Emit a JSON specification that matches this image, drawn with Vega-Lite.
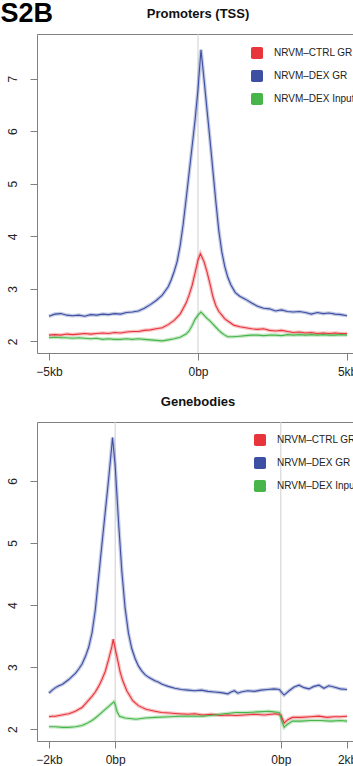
{
  "$schema": "https://vega.github.io/schema/vega-lite/v6.json",
  "padding": {"left": 0, "top": 0, "right": 0, "bottom": 0},
  "background": "white",
  "title": {"text": "S2B", "anchor": "start", "fontSize": 27, "fontWeight": "bold", "font": "Liberation Sans", "color": "#000000", "offset": -21, "dx": -5},
  "config": {
    "font": "Liberation Sans",
    "view": {"stroke": "#808080", "strokeWidth": 1},
    "axis": {"domain": false, "grid": false, "tickColor": "#808080", "tickSize": 7, "labelFontSize": 12, "labelColor": "#222222", "labelFont": "Liberation Sans", "title": null},
    "title": {"fontSize": 13, "fontWeight": "bold", "font": "Liberation Sans", "color": "#111111", "offset": 13, "anchor": "middle"}
  },
  "resolve": {"legend": {"color": "independent"}},
  "spacing": 17,
  "datasets": {
    "top": [
      {"x":-5000,"v":2.48,"s":"NRVM–DEX GR"},{"x":-4800,"v":2.52,"s":"NRVM–DEX GR"},{"x":-4600,"v":2.53,"s":"NRVM–DEX GR"},{"x":-4400,"v":2.50,"s":"NRVM–DEX GR"},{"x":-4200,"v":2.49,"s":"NRVM–DEX GR"},{"x":-4000,"v":2.50,"s":"NRVM–DEX GR"},{"x":-3800,"v":2.48,"s":"NRVM–DEX GR"},{"x":-3600,"v":2.51,"s":"NRVM–DEX GR"},{"x":-3400,"v":2.50,"s":"NRVM–DEX GR"},{"x":-3200,"v":2.52,"s":"NRVM–DEX GR"},{"x":-3000,"v":2.51,"s":"NRVM–DEX GR"},{"x":-2800,"v":2.53,"s":"NRVM–DEX GR"},{"x":-2600,"v":2.52,"s":"NRVM–DEX GR"},{"x":-2400,"v":2.55,"s":"NRVM–DEX GR"},{"x":-2200,"v":2.56,"s":"NRVM–DEX GR"},{"x":-2000,"v":2.58,"s":"NRVM–DEX GR"},{"x":-1800,"v":2.63,"s":"NRVM–DEX GR"},{"x":-1600,"v":2.70,"s":"NRVM–DEX GR"},{"x":-1400,"v":2.78,"s":"NRVM–DEX GR"},{"x":-1200,"v":2.88,"s":"NRVM–DEX GR"},{"x":-1000,"v":3.04,"s":"NRVM–DEX GR"},{"x":-900,"v":3.17,"s":"NRVM–DEX GR"},{"x":-800,"v":3.33,"s":"NRVM–DEX GR"},{"x":-700,"v":3.52,"s":"NRVM–DEX GR"},{"x":-600,"v":3.82,"s":"NRVM–DEX GR"},{"x":-500,"v":4.22,"s":"NRVM–DEX GR"},{"x":-400,"v":4.70,"s":"NRVM–DEX GR"},{"x":-300,"v":5.20,"s":"NRVM–DEX GR"},{"x":-200,"v":5.70,"s":"NRVM–DEX GR"},{"x":-100,"v":6.20,"s":"NRVM–DEX GR"},{"x":0,"v":6.80,"s":"NRVM–DEX GR"},{"x":100,"v":7.55,"s":"NRVM–DEX GR"},{"x":200,"v":7.00,"s":"NRVM–DEX GR"},{"x":300,"v":6.42,"s":"NRVM–DEX GR"},{"x":400,"v":5.85,"s":"NRVM–DEX GR"},{"x":500,"v":5.25,"s":"NRVM–DEX GR"},{"x":600,"v":4.65,"s":"NRVM–DEX GR"},{"x":700,"v":4.10,"s":"NRVM–DEX GR"},{"x":800,"v":3.70,"s":"NRVM–DEX GR"},{"x":900,"v":3.42,"s":"NRVM–DEX GR"},{"x":1000,"v":3.22,"s":"NRVM–DEX GR"},{"x":1100,"v":3.08,"s":"NRVM–DEX GR"},{"x":1250,"v":2.93,"s":"NRVM–DEX GR"},{"x":1400,"v":2.86,"s":"NRVM–DEX GR"},{"x":1600,"v":2.80,"s":"NRVM–DEX GR"},{"x":1800,"v":2.73,"s":"NRVM–DEX GR"},{"x":2000,"v":2.67,"s":"NRVM–DEX GR"},{"x":2200,"v":2.63,"s":"NRVM–DEX GR"},{"x":2400,"v":2.62,"s":"NRVM–DEX GR"},{"x":2600,"v":2.58,"s":"NRVM–DEX GR"},{"x":2800,"v":2.60,"s":"NRVM–DEX GR"},{"x":3000,"v":2.57,"s":"NRVM–DEX GR"},{"x":3200,"v":2.56,"s":"NRVM–DEX GR"},{"x":3400,"v":2.57,"s":"NRVM–DEX GR"},{"x":3600,"v":2.55,"s":"NRVM–DEX GR"},{"x":3800,"v":2.52,"s":"NRVM–DEX GR"},{"x":4000,"v":2.55,"s":"NRVM–DEX GR"},{"x":4200,"v":2.53,"s":"NRVM–DEX GR"},{"x":4400,"v":2.54,"s":"NRVM–DEX GR"},{"x":4600,"v":2.52,"s":"NRVM–DEX GR"},{"x":4800,"v":2.51,"s":"NRVM–DEX GR"},{"x":5000,"v":2.49,"s":"NRVM–DEX GR"},
      {"x":-5000,"v":2.12,"s":"NRVM–CTRL GR"},{"x":-4800,"v":2.13,"s":"NRVM–CTRL GR"},{"x":-4600,"v":2.12,"s":"NRVM–CTRL GR"},{"x":-4400,"v":2.14,"s":"NRVM–CTRL GR"},{"x":-4200,"v":2.13,"s":"NRVM–CTRL GR"},{"x":-4000,"v":2.14,"s":"NRVM–CTRL GR"},{"x":-3800,"v":2.15,"s":"NRVM–CTRL GR"},{"x":-3600,"v":2.14,"s":"NRVM–CTRL GR"},{"x":-3400,"v":2.15,"s":"NRVM–CTRL GR"},{"x":-3200,"v":2.16,"s":"NRVM–CTRL GR"},{"x":-3000,"v":2.15,"s":"NRVM–CTRL GR"},{"x":-2800,"v":2.17,"s":"NRVM–CTRL GR"},{"x":-2600,"v":2.16,"s":"NRVM–CTRL GR"},{"x":-2400,"v":2.18,"s":"NRVM–CTRL GR"},{"x":-2200,"v":2.19,"s":"NRVM–CTRL GR"},{"x":-2000,"v":2.19,"s":"NRVM–CTRL GR"},{"x":-1800,"v":2.21,"s":"NRVM–CTRL GR"},{"x":-1600,"v":2.22,"s":"NRVM–CTRL GR"},{"x":-1400,"v":2.24,"s":"NRVM–CTRL GR"},{"x":-1200,"v":2.26,"s":"NRVM–CTRL GR"},{"x":-1000,"v":2.32,"s":"NRVM–CTRL GR"},{"x":-800,"v":2.40,"s":"NRVM–CTRL GR"},{"x":-600,"v":2.52,"s":"NRVM–CTRL GR"},{"x":-400,"v":2.73,"s":"NRVM–CTRL GR"},{"x":-300,"v":2.88,"s":"NRVM–CTRL GR"},{"x":-200,"v":3.06,"s":"NRVM–CTRL GR"},{"x":-100,"v":3.30,"s":"NRVM–CTRL GR"},{"x":0,"v":3.55,"s":"NRVM–CTRL GR"},{"x":80,"v":3.67,"s":"NRVM–CTRL GR"},{"x":200,"v":3.52,"s":"NRVM–CTRL GR"},{"x":300,"v":3.33,"s":"NRVM–CTRL GR"},{"x":400,"v":3.10,"s":"NRVM–CTRL GR"},{"x":500,"v":2.85,"s":"NRVM–CTRL GR"},{"x":600,"v":2.68,"s":"NRVM–CTRL GR"},{"x":700,"v":2.57,"s":"NRVM–CTRL GR"},{"x":800,"v":2.50,"s":"NRVM–CTRL GR"},{"x":900,"v":2.43,"s":"NRVM–CTRL GR"},{"x":1000,"v":2.39,"s":"NRVM–CTRL GR"},{"x":1200,"v":2.31,"s":"NRVM–CTRL GR"},{"x":1400,"v":2.28,"s":"NRVM–CTRL GR"},{"x":1600,"v":2.26,"s":"NRVM–CTRL GR"},{"x":1800,"v":2.24,"s":"NRVM–CTRL GR"},{"x":2000,"v":2.23,"s":"NRVM–CTRL GR"},{"x":2200,"v":2.24,"s":"NRVM–CTRL GR"},{"x":2400,"v":2.21,"s":"NRVM–CTRL GR"},{"x":2600,"v":2.20,"s":"NRVM–CTRL GR"},{"x":2800,"v":2.21,"s":"NRVM–CTRL GR"},{"x":3000,"v":2.19,"s":"NRVM–CTRL GR"},{"x":3200,"v":2.17,"s":"NRVM–CTRL GR"},{"x":3400,"v":2.18,"s":"NRVM–CTRL GR"},{"x":3600,"v":2.16,"s":"NRVM–CTRL GR"},{"x":3800,"v":2.17,"s":"NRVM–CTRL GR"},{"x":4000,"v":2.15,"s":"NRVM–CTRL GR"},{"x":4200,"v":2.16,"s":"NRVM–CTRL GR"},{"x":4400,"v":2.15,"s":"NRVM–CTRL GR"},{"x":4600,"v":2.16,"s":"NRVM–CTRL GR"},{"x":4800,"v":2.15,"s":"NRVM–CTRL GR"},{"x":5000,"v":2.15,"s":"NRVM–CTRL GR"},
      {"x":-5000,"v":2.07,"s":"NRVM–DEX Input"},{"x":-4800,"v":2.08,"s":"NRVM–DEX Input"},{"x":-4600,"v":2.07,"s":"NRVM–DEX Input"},{"x":-4400,"v":2.07,"s":"NRVM–DEX Input"},{"x":-4200,"v":2.06,"s":"NRVM–DEX Input"},{"x":-4000,"v":2.07,"s":"NRVM–DEX Input"},{"x":-3800,"v":2.06,"s":"NRVM–DEX Input"},{"x":-3600,"v":2.05,"s":"NRVM–DEX Input"},{"x":-3400,"v":2.06,"s":"NRVM–DEX Input"},{"x":-3200,"v":2.04,"s":"NRVM–DEX Input"},{"x":-3000,"v":2.05,"s":"NRVM–DEX Input"},{"x":-2800,"v":2.04,"s":"NRVM–DEX Input"},{"x":-2600,"v":2.04,"s":"NRVM–DEX Input"},{"x":-2400,"v":2.05,"s":"NRVM–DEX Input"},{"x":-2200,"v":2.04,"s":"NRVM–DEX Input"},{"x":-2000,"v":2.05,"s":"NRVM–DEX Input"},{"x":-1800,"v":2.04,"s":"NRVM–DEX Input"},{"x":-1600,"v":2.03,"s":"NRVM–DEX Input"},{"x":-1400,"v":2.02,"s":"NRVM–DEX Input"},{"x":-1200,"v":2.01,"s":"NRVM–DEX Input"},{"x":-1000,"v":2.03,"s":"NRVM–DEX Input"},{"x":-800,"v":2.05,"s":"NRVM–DEX Input"},{"x":-600,"v":2.08,"s":"NRVM–DEX Input"},{"x":-400,"v":2.14,"s":"NRVM–DEX Input"},{"x":-300,"v":2.20,"s":"NRVM–DEX Input"},{"x":-200,"v":2.30,"s":"NRVM–DEX Input"},{"x":-100,"v":2.42,"s":"NRVM–DEX Input"},{"x":0,"v":2.50,"s":"NRVM–DEX Input"},{"x":100,"v":2.56,"s":"NRVM–DEX Input"},{"x":200,"v":2.50,"s":"NRVM–DEX Input"},{"x":300,"v":2.44,"s":"NRVM–DEX Input"},{"x":400,"v":2.39,"s":"NRVM–DEX Input"},{"x":500,"v":2.33,"s":"NRVM–DEX Input"},{"x":600,"v":2.27,"s":"NRVM–DEX Input"},{"x":700,"v":2.21,"s":"NRVM–DEX Input"},{"x":800,"v":2.16,"s":"NRVM–DEX Input"},{"x":900,"v":2.12,"s":"NRVM–DEX Input"},{"x":1000,"v":2.09,"s":"NRVM–DEX Input"},{"x":1200,"v":2.09,"s":"NRVM–DEX Input"},{"x":1400,"v":2.10,"s":"NRVM–DEX Input"},{"x":1600,"v":2.11,"s":"NRVM–DEX Input"},{"x":1800,"v":2.12,"s":"NRVM–DEX Input"},{"x":2000,"v":2.12,"s":"NRVM–DEX Input"},{"x":2200,"v":2.11,"s":"NRVM–DEX Input"},{"x":2400,"v":2.12,"s":"NRVM–DEX Input"},{"x":2600,"v":2.12,"s":"NRVM–DEX Input"},{"x":2800,"v":2.11,"s":"NRVM–DEX Input"},{"x":3000,"v":2.13,"s":"NRVM–DEX Input"},{"x":3200,"v":2.12,"s":"NRVM–DEX Input"},{"x":3400,"v":2.13,"s":"NRVM–DEX Input"},{"x":3600,"v":2.12,"s":"NRVM–DEX Input"},{"x":3800,"v":2.13,"s":"NRVM–DEX Input"},{"x":4000,"v":2.12,"s":"NRVM–DEX Input"},{"x":4200,"v":2.13,"s":"NRVM–DEX Input"},{"x":4400,"v":2.12,"s":"NRVM–DEX Input"},{"x":4600,"v":2.12,"s":"NRVM–DEX Input"},{"x":4800,"v":2.13,"s":"NRVM–DEX Input"},{"x":5000,"v":2.12,"s":"NRVM–DEX Input"}
    ],
    "bottom": [
      {"x":-2000,"v":2.58,"s":"NRVM–DEX GR"},{"x":-1900,"v":2.63,"s":"NRVM–DEX GR"},{"x":-1800,"v":2.67,"s":"NRVM–DEX GR"},{"x":-1700,"v":2.70,"s":"NRVM–DEX GR"},{"x":-1600,"v":2.72,"s":"NRVM–DEX GR"},{"x":-1500,"v":2.76,"s":"NRVM–DEX GR"},{"x":-1400,"v":2.80,"s":"NRVM–DEX GR"},{"x":-1300,"v":2.85,"s":"NRVM–DEX GR"},{"x":-1200,"v":2.90,"s":"NRVM–DEX GR"},{"x":-1100,"v":2.97,"s":"NRVM–DEX GR"},{"x":-1000,"v":3.05,"s":"NRVM–DEX GR"},{"x":-900,"v":3.17,"s":"NRVM–DEX GR"},{"x":-800,"v":3.32,"s":"NRVM–DEX GR"},{"x":-700,"v":3.55,"s":"NRVM–DEX GR"},{"x":-600,"v":3.92,"s":"NRVM–DEX GR"},{"x":-500,"v":4.45,"s":"NRVM–DEX GR"},{"x":-400,"v":4.98,"s":"NRVM–DEX GR"},{"x":-300,"v":5.50,"s":"NRVM–DEX GR"},{"x":-200,"v":6.02,"s":"NRVM–DEX GR"},{"x":-100,"v":6.58,"s":"NRVM–DEX GR"},{"x":-80,"v":6.70,"s":"NRVM–DEX GR"},{"x":0,"v":6.25,"s":"NRVM–DEX GR"},{"x":100,"v":5.35,"s":"NRVM–DEX GR"},{"x":200,"v":4.55,"s":"NRVM–DEX GR"},{"x":300,"v":3.95,"s":"NRVM–DEX GR"},{"x":400,"v":3.55,"s":"NRVM–DEX GR"},{"x":500,"v":3.30,"s":"NRVM–DEX GR"},{"x":600,"v":3.14,"s":"NRVM–DEX GR"},{"x":700,"v":3.02,"s":"NRVM–DEX GR"},{"x":800,"v":2.94,"s":"NRVM–DEX GR"},{"x":900,"v":2.88,"s":"NRVM–DEX GR"},{"x":1000,"v":2.84,"s":"NRVM–DEX GR"},{"x":1100,"v":2.81,"s":"NRVM–DEX GR"},{"x":1200,"v":2.78,"s":"NRVM–DEX GR"},{"x":1300,"v":2.76,"s":"NRVM–DEX GR"},{"x":1400,"v":2.73,"s":"NRVM–DEX GR"},{"x":1500,"v":2.71,"s":"NRVM–DEX GR"},{"x":1600,"v":2.69,"s":"NRVM–DEX GR"},{"x":1800,"v":2.66,"s":"NRVM–DEX GR"},{"x":2000,"v":2.64,"s":"NRVM–DEX GR"},{"x":2200,"v":2.63,"s":"NRVM–DEX GR"},{"x":2400,"v":2.62,"s":"NRVM–DEX GR"},{"x":2600,"v":2.63,"s":"NRVM–DEX GR"},{"x":2800,"v":2.61,"s":"NRVM–DEX GR"},{"x":3000,"v":2.60,"s":"NRVM–DEX GR"},{"x":3200,"v":2.59,"s":"NRVM–DEX GR"},{"x":3400,"v":2.57,"s":"NRVM–DEX GR"},{"x":3500,"v":2.60,"s":"NRVM–DEX GR"},{"x":3600,"v":2.62,"s":"NRVM–DEX GR"},{"x":3700,"v":2.58,"s":"NRVM–DEX GR"},{"x":3800,"v":2.60,"s":"NRVM–DEX GR"},{"x":4000,"v":2.62,"s":"NRVM–DEX GR"},{"x":4200,"v":2.61,"s":"NRVM–DEX GR"},{"x":4400,"v":2.63,"s":"NRVM–DEX GR"},{"x":4600,"v":2.64,"s":"NRVM–DEX GR"},{"x":4800,"v":2.65,"s":"NRVM–DEX GR"},{"x":4950,"v":2.64,"s":"NRVM–DEX GR"},{"x":5100,"v":2.55,"s":"NRVM–DEX GR"},{"x":5250,"v":2.62,"s":"NRVM–DEX GR"},{"x":5400,"v":2.68,"s":"NRVM–DEX GR"},{"x":5550,"v":2.71,"s":"NRVM–DEX GR"},{"x":5700,"v":2.67,"s":"NRVM–DEX GR"},{"x":5850,"v":2.65,"s":"NRVM–DEX GR"},{"x":6000,"v":2.69,"s":"NRVM–DEX GR"},{"x":6150,"v":2.71,"s":"NRVM–DEX GR"},{"x":6300,"v":2.66,"s":"NRVM–DEX GR"},{"x":6450,"v":2.70,"s":"NRVM–DEX GR"},{"x":6600,"v":2.68,"s":"NRVM–DEX GR"},{"x":6800,"v":2.65,"s":"NRVM–DEX GR"},{"x":7000,"v":2.64,"s":"NRVM–DEX GR"},
      {"x":-2000,"v":2.20,"s":"NRVM–CTRL GR"},{"x":-1900,"v":2.21,"s":"NRVM–CTRL GR"},{"x":-1800,"v":2.21,"s":"NRVM–CTRL GR"},{"x":-1700,"v":2.22,"s":"NRVM–CTRL GR"},{"x":-1600,"v":2.23,"s":"NRVM–CTRL GR"},{"x":-1500,"v":2.24,"s":"NRVM–CTRL GR"},{"x":-1400,"v":2.25,"s":"NRVM–CTRL GR"},{"x":-1300,"v":2.27,"s":"NRVM–CTRL GR"},{"x":-1200,"v":2.29,"s":"NRVM–CTRL GR"},{"x":-1100,"v":2.32,"s":"NRVM–CTRL GR"},{"x":-1000,"v":2.35,"s":"NRVM–CTRL GR"},{"x":-900,"v":2.41,"s":"NRVM–CTRL GR"},{"x":-800,"v":2.47,"s":"NRVM–CTRL GR"},{"x":-700,"v":2.53,"s":"NRVM–CTRL GR"},{"x":-600,"v":2.60,"s":"NRVM–CTRL GR"},{"x":-500,"v":2.69,"s":"NRVM–CTRL GR"},{"x":-400,"v":2.80,"s":"NRVM–CTRL GR"},{"x":-300,"v":2.93,"s":"NRVM–CTRL GR"},{"x":-200,"v":3.12,"s":"NRVM–CTRL GR"},{"x":-100,"v":3.33,"s":"NRVM–CTRL GR"},{"x":-60,"v":3.45,"s":"NRVM–CTRL GR"},{"x":0,"v":3.30,"s":"NRVM–CTRL GR"},{"x":80,"v":3.10,"s":"NRVM–CTRL GR"},{"x":150,"v":2.92,"s":"NRVM–CTRL GR"},{"x":230,"v":2.78,"s":"NRVM–CTRL GR"},{"x":350,"v":2.62,"s":"NRVM–CTRL GR"},{"x":530,"v":2.46,"s":"NRVM–CTRL GR"},{"x":700,"v":2.38,"s":"NRVM–CTRL GR"},{"x":930,"v":2.32,"s":"NRVM–CTRL GR"},{"x":1200,"v":2.29,"s":"NRVM–CTRL GR"},{"x":1400,"v":2.27,"s":"NRVM–CTRL GR"},{"x":1640,"v":2.26,"s":"NRVM–CTRL GR"},{"x":1900,"v":2.25,"s":"NRVM–CTRL GR"},{"x":2200,"v":2.24,"s":"NRVM–CTRL GR"},{"x":2400,"v":2.25,"s":"NRVM–CTRL GR"},{"x":2640,"v":2.23,"s":"NRVM–CTRL GR"},{"x":2900,"v":2.24,"s":"NRVM–CTRL GR"},{"x":3200,"v":2.22,"s":"NRVM–CTRL GR"},{"x":3400,"v":2.23,"s":"NRVM–CTRL GR"},{"x":3640,"v":2.22,"s":"NRVM–CTRL GR"},{"x":3900,"v":2.23,"s":"NRVM–CTRL GR"},{"x":4200,"v":2.24,"s":"NRVM–CTRL GR"},{"x":4500,"v":2.23,"s":"NRVM–CTRL GR"},{"x":4850,"v":2.25,"s":"NRVM–CTRL GR"},{"x":5000,"v":2.23,"s":"NRVM–CTRL GR"},{"x":5100,"v":2.10,"s":"NRVM–CTRL GR"},{"x":5200,"v":2.15,"s":"NRVM–CTRL GR"},{"x":5350,"v":2.19,"s":"NRVM–CTRL GR"},{"x":5600,"v":2.19,"s":"NRVM–CTRL GR"},{"x":5900,"v":2.20,"s":"NRVM–CTRL GR"},{"x":6150,"v":2.21,"s":"NRVM–CTRL GR"},{"x":6400,"v":2.19,"s":"NRVM–CTRL GR"},{"x":6600,"v":2.20,"s":"NRVM–CTRL GR"},{"x":6800,"v":2.20,"s":"NRVM–CTRL GR"},{"x":7000,"v":2.21,"s":"NRVM–CTRL GR"},
      {"x":-2000,"v":2.04,"s":"NRVM–DEX Input"},{"x":-1800,"v":2.04,"s":"NRVM–DEX Input"},{"x":-1600,"v":2.03,"s":"NRVM–DEX Input"},{"x":-1400,"v":2.03,"s":"NRVM–DEX Input"},{"x":-1200,"v":2.04,"s":"NRVM–DEX Input"},{"x":-1000,"v":2.06,"s":"NRVM–DEX Input"},{"x":-870,"v":2.09,"s":"NRVM–DEX Input"},{"x":-700,"v":2.14,"s":"NRVM–DEX Input"},{"x":-600,"v":2.18,"s":"NRVM–DEX Input"},{"x":-470,"v":2.24,"s":"NRVM–DEX Input"},{"x":-300,"v":2.32,"s":"NRVM–DEX Input"},{"x":-170,"v":2.38,"s":"NRVM–DEX Input"},{"x":-40,"v":2.44,"s":"NRVM–DEX Input"},{"x":0,"v":2.40,"s":"NRVM–DEX Input"},{"x":60,"v":2.28,"s":"NRVM–DEX Input"},{"x":130,"v":2.21,"s":"NRVM–DEX Input"},{"x":300,"v":2.18,"s":"NRVM–DEX Input"},{"x":630,"v":2.16,"s":"NRVM–DEX Input"},{"x":900,"v":2.18,"s":"NRVM–DEX Input"},{"x":1200,"v":2.19,"s":"NRVM–DEX Input"},{"x":1640,"v":2.20,"s":"NRVM–DEX Input"},{"x":2000,"v":2.21,"s":"NRVM–DEX Input"},{"x":2300,"v":2.21,"s":"NRVM–DEX Input"},{"x":2640,"v":2.21,"s":"NRVM–DEX Input"},{"x":3000,"v":2.23,"s":"NRVM–DEX Input"},{"x":3300,"v":2.25,"s":"NRVM–DEX Input"},{"x":3640,"v":2.27,"s":"NRVM–DEX Input"},{"x":4000,"v":2.27,"s":"NRVM–DEX Input"},{"x":4300,"v":2.28,"s":"NRVM–DEX Input"},{"x":4650,"v":2.29,"s":"NRVM–DEX Input"},{"x":4950,"v":2.27,"s":"NRVM–DEX Input"},{"x":5050,"v":2.10,"s":"NRVM–DEX Input"},{"x":5100,"v":2.03,"s":"NRVM–DEX Input"},{"x":5200,"v":2.08,"s":"NRVM–DEX Input"},{"x":5350,"v":2.13,"s":"NRVM–DEX Input"},{"x":5600,"v":2.13,"s":"NRVM–DEX Input"},{"x":5900,"v":2.14,"s":"NRVM–DEX Input"},{"x":6200,"v":2.14,"s":"NRVM–DEX Input"},{"x":6500,"v":2.13,"s":"NRVM–DEX Input"},{"x":6800,"v":2.14,"s":"NRVM–DEX Input"},{"x":7000,"v":2.13,"s":"NRVM–DEX Input"}
    ]
  },
  "vconcat": [
    {
      "width": 322, "height": 319,
      "title": {"text": "Promoters (TSS)"},
      "encoding": {
        "x": {"field": "x", "type": "quantitative", "scale": {"domain": [-5400, 5400], "nice": false, "zero": false},
              "axis": {"values": [-5000, 0, 5000], "labelExpr": "datum.value == 0 ? '0bp' : (datum.value < 0 ? '−5kb' : '5kb')", "labelPadding": 6, "title": null}}
      },
      "layer": [
        {"data": {"values": [{"x": 0}]}, "mark": {"type": "rule", "color": "#cfcfcf", "strokeWidth": 1}},
        {
          "data": {"name": "top"},
          "encoding": {
            "y": {"field": "v", "type": "quantitative", "scale": {"domain": [1.78, 7.85], "nice": false, "zero": false},
                  "axis": {"values": [2, 3, 4, 5, 6, 7], "labelAngle": 270, "labelPadding": 11, "title": null}},
            "color": {"field": "s", "type": "nominal",
                      "scale": {"domain": ["NRVM–CTRL GR", "NRVM–DEX GR", "NRVM–DEX Input"], "range": ["#E8343B", "#3C4FA2", "#47B54A"]},
                      "legend": {"orient": "none", "legendX": 214, "legendY": 13, "title": null,
                                 "symbolType": "M-0.7,-1H0.7Q1,-1 1,-0.7V0.7Q1,1 0.7,1H-0.7Q-1,1 -1,0.7V-0.7Q-1,-1 -0.7,-1Z",
                                 "symbolSize": 144, "labelFontSize": 10, "labelOffset": 11, "rowPadding": 11, "labelColor": "#222222",
                                 "encode": {"symbols": {"update": {"fill": {"scale": "color", "field": "value"}, "opacity": {"value": 1}, "strokeWidth": {"value": 0}}}}}}
          },
          "layer": [
            {"mark": {"type": "line", "strokeWidth": 3.6, "opacity": 0.3}},
            {"mark": {"type": "line", "strokeWidth": 1.1}}
          ]
        }
      ]
    },
    {
      "width": 322, "height": 319,
      "title": {"text": "Genebodies"},
      "encoding": {
        "x": {"field": "x", "type": "quantitative", "scale": {"domain": [-2360, 7360], "nice": false, "zero": false},
              "axis": {"values": [-2000, 0, 5000, 7000], "labelExpr": "datum.value == -2000 ? '−2kb' : (datum.value == 7000 ? '2kb' : '0bp')", "labelPadding": 6, "title": null}}
      },
      "layer": [
        {"data": {"values": [{"x": 0}, {"x": 5000}]}, "mark": {"type": "rule", "color": "#cfcfcf", "strokeWidth": 1}},
        {
          "data": {"name": "bottom"},
          "encoding": {
            "y": {"field": "v", "type": "quantitative", "scale": {"domain": [1.81, 6.95], "nice": false, "zero": false},
                  "axis": {"values": [2, 3, 4, 5, 6], "labelAngle": 270, "labelPadding": 11, "title": null}},
            "color": {"field": "s", "type": "nominal",
                      "scale": {"domain": ["NRVM–CTRL GR", "NRVM–DEX GR", "NRVM–DEX Input"], "range": ["#E8343B", "#3C4FA2", "#47B54A"]},
                      "legend": {"orient": "none", "legendX": 217, "legendY": 12, "title": null,
                                 "symbolType": "M-0.7,-1H0.7Q1,-1 1,-0.7V0.7Q1,1 0.7,1H-0.7Q-1,1 -1,0.7V-0.7Q-1,-1 -0.7,-1Z",
                                 "symbolSize": 144, "labelFontSize": 10, "labelOffset": 11, "rowPadding": 11, "labelColor": "#222222",
                                 "encode": {"symbols": {"update": {"fill": {"scale": "color", "field": "value"}, "opacity": {"value": 1}, "strokeWidth": {"value": 0}}}}}}
          },
          "layer": [
            {"mark": {"type": "line", "strokeWidth": 3.6, "opacity": 0.3}},
            {"mark": {"type": "line", "strokeWidth": 1.1}}
          ]
        }
      ]
    }
  ]
}
